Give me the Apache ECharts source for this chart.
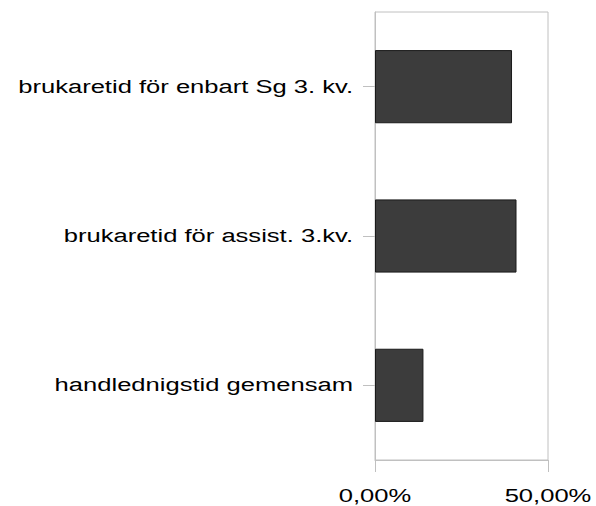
<!DOCTYPE html>
<html>
<head>
<meta charset="utf-8">
<script src="https://cdn.jsdelivr.net/npm/echarts@6/dist/echarts.min.js"></script>
<style>
  html, body { margin: 0; padding: 0; background: #fff; }
  #chart { width: 596px; height: 506px; }
</style>
</head>
<body>
<div id="chart"></div>
<script>
// categories bottom -> top (category axis starts at the bottom)
const categories = [
  'handlednigstid gemensam',
  'brukaretid för assist. 3.kv.',
  'brukaretid för enbart Sg 3. kv.',
];
const values = [14.0, 40.9, 39.6];
const xTicks = [0, 50];

const chart = echarts.init(document.getElementById('chart'), null, { renderer: 'svg' });

const fmtPct = (v) => v.toFixed(2).replace('.', ',') + '%';

chart.setOption({
  animation: false,
  textStyle: { fontFamily: 'Liberation Sans' },
  grid: {
    left: 375,
    right: 48,
    top: 12,
    bottom: 46,
    show: true,
    borderColor: '#c0c0c0',
    borderWidth: 1,
  },
  xAxis: {
    type: 'value',
    min: xTicks[0],
    max: xTicks[xTicks.length - 1],
    interval: 50,
    axisLine: { show: true, lineStyle: { color: '#c0c0c0' } },
    axisTick: { show: true, length: 12, inside: false, lineStyle: { color: '#c0c0c0' } },
    splitLine: { show: false },
    axisLabel: {
      color: '#000',
      fontSize: 18,
      margin: 27,
      formatter: fmtPct,
    },
  },
  yAxis: {
    type: 'category',
    data: categories,
    axisLine: { show: true, lineStyle: { color: '#c0c0c0' } },
    axisTick: { show: true, length: 12, alignWithLabel: true, lineStyle: { color: '#c0c0c0' } },
    axisLabel: {
      color: '#000',
      fontSize: 18,
      margin: 22,
    },
  },
  series: [
    {
      type: 'bar',
      data: values,
      barWidth: '49%',
      itemStyle: {
        color: '#3c3c3c',
        borderColor: '#1a1a1a',
        borderWidth: 1,
      },
    },
  ],
});

// the reference type is drawn horizontally stretched, widen the svg text to match
const stretchText = () => {
  document.querySelectorAll('#chart text').forEach((t) => {
    if (t.getAttribute('lengthAdjust')) return;
    const w = t.getComputedTextLength();
    t.setAttribute('textLength', (w * 1.42).toFixed(1));
    t.setAttribute('lengthAdjust', 'spacingAndGlyphs');
  });
};
stretchText();
chart.on('finished', stretchText);
</script>
</body>
</html>
